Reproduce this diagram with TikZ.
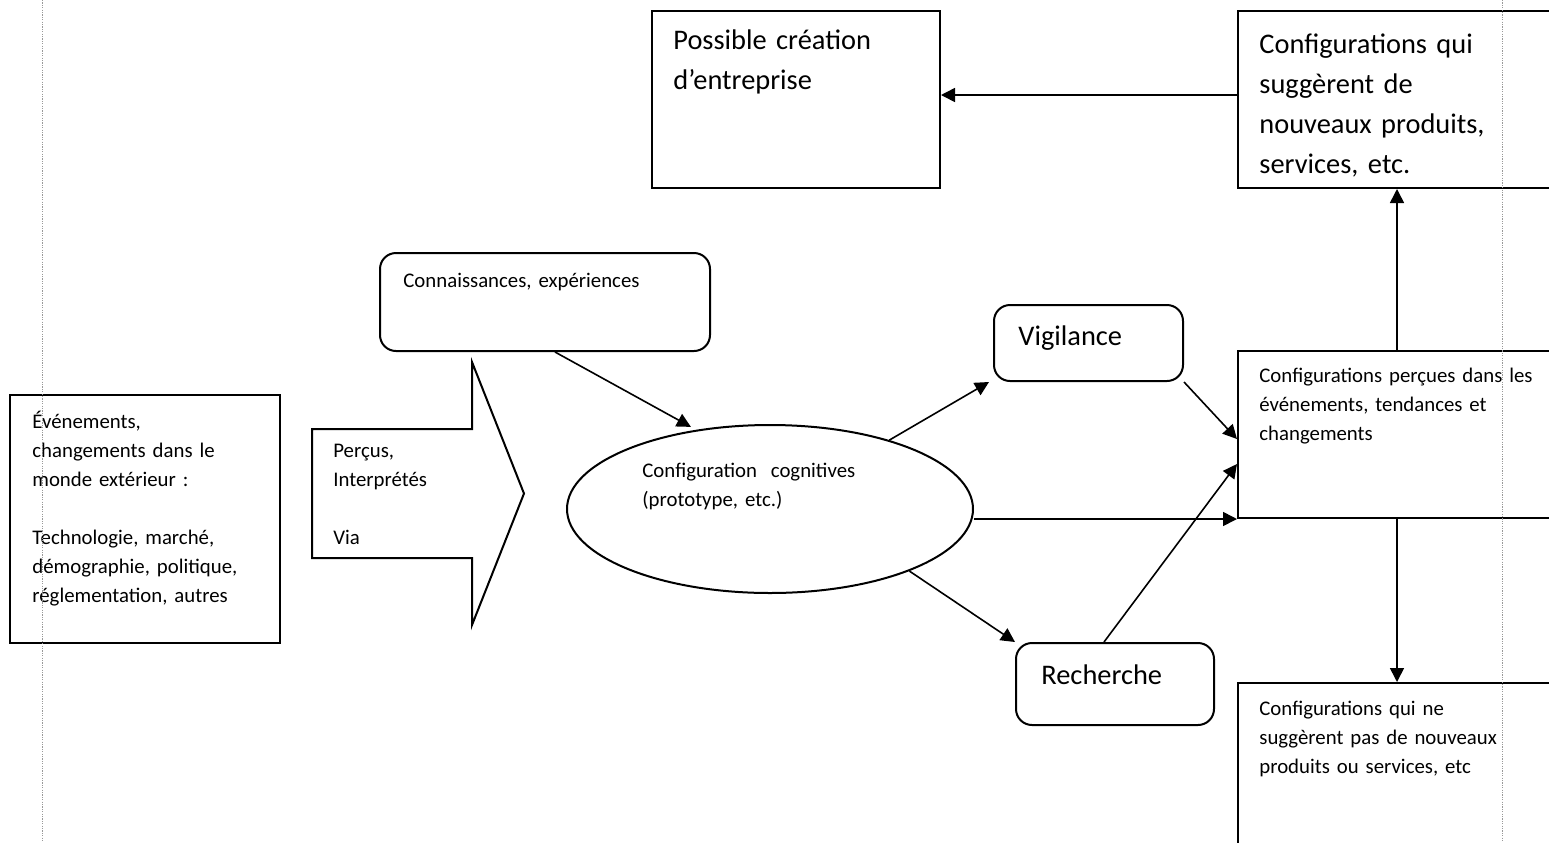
\documentclass[tikz,border=0pt]{standalone}
\usepackage{fontspec}
\setmainfont{Carlito}
\usetikzlibrary{shapes.geometric,arrows.meta,calc}
\newcommand\smallf{\fontsize{10.4}{14.5}\selectfont}
\newcommand\bigf{\fontsize{14.2}{20}\selectfont}
\begin{document}
\begin{tikzpicture}[x=0.5pt,y=-0.5pt,
  box/.style={draw, line width=1pt, inner sep=0pt, rectangle},
  rbox/.style={box, rounded corners=8pt},
  txs/.style={anchor=base west, inner sep=0pt, text width=220pt, align=left, font=\smallf},
  txb/.style={anchor=base west, inner sep=0pt, text width=220pt, align=left, font=\bigf},
  arr/.style={line width=0.8pt, -{Triangle[length=7pt,width=7pt]}},
  margin/.style={draw=gray!80, line width=0.5pt, dash pattern=on 0.6pt off 0.6pt}]
\useasboundingbox (0,0) rectangle (1549,842);
\clip (0,0) rectangle (1549,842);
\fill[white] (0,0) rectangle (1549,842);

% boxes
\node[box, minimum width=135pt, minimum height=124pt] (evt) at (145,519) {};
\node[rbox, minimum width=165pt, minimum height=49pt] (con) at (545,302) {};
\node[draw, line width=1pt, ellipse, inner sep=0pt, minimum width=203pt, minimum height=84pt] (ell) at (770,509) {};
\node[rbox, minimum width=94.5pt, minimum height=38pt] (vig) at (1088.5,343) {};
\node[rbox, minimum width=99pt, minimum height=41pt] (rec) at (1115,684) {};
\node[box, minimum width=181pt, minimum height=83.5pt] (perc) at (1419,434.5) {};
\node[box, minimum width=181pt, minimum height=88.5pt] (sug) at (1419,99.5) {};
\node[box, minimum width=181pt, minimum height=108.5pt] (nosug) at (1419,791.5) {};
\node[box, minimum width=144pt, minimum height=88.5pt] (pos) at (796,99.5) {};

% block arrow
\draw[line width=1pt] (312,429) -- (472,429) -- (472,362) -- (524,493.5) -- (472,625) -- (472,558) -- (312,558) -- cycle;

% texts
\node[txs] (tevt) at (32,428) {Événements,\\changements dans le\\monde extérieur :\\[14.5pt]Technologie, marché,\\démographie, politique,\\réglementation, autres};
\node[txs] (tcon) at (403,287) {Connaissances, expériences};
\node[txs] (tper) at (333,457) {Perçus,\\Interprétés\\[14.5pt]Via};
\node[txs] (tell) at (642,477) {Configuration\ \ cognitives\\(prototype, etc.)};
\node[txb] (tvig) at (1018,345) {Vigilance};
\node[txb] (trec) at (1041,684) {Recherche};
\node[txs] (tperc) at (1259,382) {Configurations perçues dans les\\événements, tendances et\\changements};
\node[txb] (tsug) at (1259,53) {Configurations qui\\suggèrent de\\nouveaux produits,\\services, etc.};
\node[txs] (tnosug) at (1259,715) {Configurations qui ne\\suggèrent pas de nouveaux\\produits ou services, etc};
\node[txb] (tpos) at (673,49) {Possible création\\d{\char"27}entreprise};

% connectors
\draw[arr] ([yshift=2.25pt]sug.west) -- ([yshift=2.25pt]pos.east);
\draw[arr] ([xshift=-11pt]perc.north) -- ([xshift=-11pt]sug.south);
\draw[arr] ([xshift=-11pt]perc.south) -- ([xshift=-11pt]nosug.north);
\draw[arr, shorten >=3pt] ([xshift=5pt]con.south) -- (ell.133);
\draw[arr] (ell.30) -- ([xshift=-2pt]vig.south west);
\draw[arr] (vig.south east) -- ([yshift=-44.5pt]perc.north west);
\draw[arr] (ell.east |- perc.south west) -- (perc.south west);
\draw[arr] (ell.336) -- (rec.north west);
\draw[arr] ([xshift=-5.5pt]rec.north) -- ([yshift=-57pt]perc.north west);

% page margin markers
\draw[margin] (42,0) -- (42,842);
\draw[margin] (1502,0) -- (1502,842);
\end{tikzpicture}
\end{document}
